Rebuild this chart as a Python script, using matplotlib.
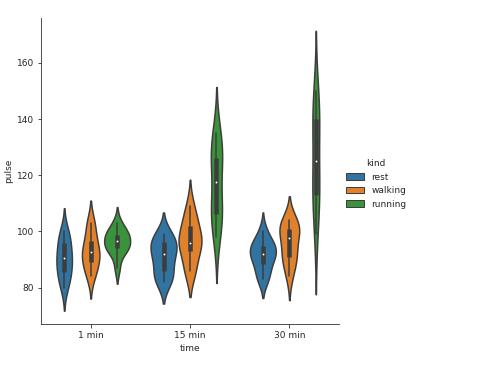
import numpy as np
import matplotlib
matplotlib.use('Agg')
import matplotlib.pyplot as plt
import seaborn as sns

times = ['1 min', '15 min', '30 min']
kinds = ['rest', 'walking', 'running']

# pulse per subject (10 subjects per kind) at each time
rest_1    = [85, 90, 97, 80, 91, 83, 87, 92, 97, 100]
rest_15   = [85, 92, 97, 82, 92, 83, 88, 94, 99, 97]
rest_30   = [88, 93, 94, 83, 91, 84, 90, 95, 96, 100]
walk_1    = [86, 93, 90, 95, 89, 84, 103, 92, 97, 102]
walk_15   = [86, 103, 92, 96, 96, 86, 109, 96, 98, 104]
walk_30   = [84, 104, 93, 100, 95, 89, 90, 101, 100, 103]
run_1     = [93, 98, 98, 87, 94, 95, 100, 103, 94, 99]
run_15    = [98, 104, 105, 132, 110, 126, 126, 124, 135, 111]
run_30    = [110, 112, 99, 120, 116, 143, 140, 140, 130, 150]

groups = [  # one list per time, hue order rest / walking / running
    [rest_1, walk_1, run_1],
    [rest_15, walk_15, run_15],
    [rest_30, walk_30, run_30],
]

colors = sns.color_palette('tab10', 3, desat=0.75)
gray = '#3d3d3d'
lw = 1.5
width = 0.8
each = width / 3
offsets = np.linspace(0, width - each, 3) - (width - each) / 2
half = each * 0.98 / 2


def kde(vals, cut=2, gridsize=100):
    d = np.asarray(vals, float)
    bw = len(d) ** (-1 / 5) * d.std(ddof=1)
    y = np.linspace(d.min() - cut * bw, d.max() + cut * bw, gridsize)
    dens = np.exp(-0.5 * ((y[:, None] - d[None, :]) / bw) ** 2).sum(1)
    dens /= len(d) * bw * np.sqrt(2 * np.pi)
    return y, dens


sns.set_style('ticks')
fig = plt.figure(figsize=(477/72, 377/72), dpi=72)
ax = fig.add_axes([41/477, 53/377, 298/477, 306/377])

for i, grp in enumerate(groups):
    kdes = [kde(v) for v in grp]
    top = max(k[1].max() for k in kdes)  # scale within each time group
    for j, vals in enumerate(grp):
        c = i + offsets[j]
        y, dens = kdes[j]
        dens = dens / top * half
        ax.fill_betweenx(y, c - dens, c + dens, facecolor=colors[j],
                         edgecolor=gray, linewidth=lw)
        d = np.asarray(vals, float)
        q25, q50, q75 = np.percentile(d, [25, 50, 75])
        lim = 1.5 * (q75 - q25)
        h1 = d[d >= q25 - lim].min()
        h2 = d[d <= q75 + lim].max()
        ax.plot([c, c], [h1, h2], lw=lw, color=gray)
        ax.plot([c, c], [q25, q75], lw=lw * 3, color=gray, solid_capstyle='butt')
        ax.scatter(c, q50, zorder=3, color='white', edgecolor=gray,
                   s=np.square(lw * 2))

sns.despine(ax=ax)
ax.set_xlim(-0.5, 2.5)
ax.set_xticks(range(len(times)))
ax.set_xticklabels(times)
ax.set_ylim(67, 176)
ax.set_yticks([80, 100, 120, 140, 160])
ax.tick_params(labelsize=9)
ax.set_xlabel('time', fontsize=9)
ax.set_ylabel('pulse', fontsize=9)

handles = [plt.Rectangle((0, 0), 1, 1, fc=c, ec=gray, lw=1.0) for c in colors]
fig.legend(handles, kinds, title='kind', loc='center left',
           bbox_to_anchor=(338/477, 1 - 184/377), frameon=False,
           fontsize=9, title_fontsize=9)

fig.savefig('out.png', dpi=72)
